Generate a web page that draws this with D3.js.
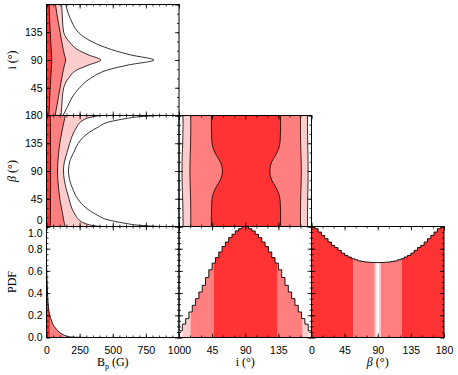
<!DOCTYPE html>
<html>
<head>
<meta charset="utf-8">
<script src="https://cdn.jsdelivr.net/npm/d3@7"></script>
<style>
body { margin: 0; background: #fff; }
svg { display: block; }
.tick text { font-family: "Liberation Sans", Arial, sans-serif; font-size: 10.5px; fill: #000; }
.tick line { stroke: #000; stroke-width: 0.8; }
.title { font-family: "Liberation Serif", "Times New Roman", serif; font-size: 12px; fill: #000; }
</style>
</head>
<body>
<svg width="458" height="375"></svg>
<script>
// ---- values ----
// B_p (G) vs i (deg): B value of each credible contour at a given inclination
var iGrid  = [0, 15, 30, 45, 60, 75, 82, 90, 98, 105, 120, 135, 150, 165, 180];
var biLev1 = [18, 22, 25, 28, 32, 36, 38, 40, 38, 36, 32, 28, 25, 22, 20];
var biLev2 = [65, 78, 90, 103, 115, 128, 136, 145, 136, 128, 115, 103, 90, 78, 68];
var biLev3 = [110, 115, 120, 130, 165, 240, 320, 410, 320, 250, 170, 130, 122, 118, 115];
var biLev4 = [125, 160, 195, 250, 330, 480, 620, 810, 640, 520, 340, 240, 195, 165, 145];

// B_p (G) vs beta (deg)
var bGrid  = [0, 2, 5, 10, 20, 30, 45, 60, 75, 90, 105, 120, 135, 150, 160, 170, 175, 178, 180];
var bbLev1 = [28, 28, 29, 29, 30, 30, 30, 31, 31, 31, 31, 31, 30, 30, 30, 29, 29, 28, 28];
var bbLev2 = [140, 138, 135, 130, 122, 113, 100, 92, 86, 83, 86, 92, 100, 113, 122, 132, 137, 140, 143];
var bbLev3 = [400, 340, 290, 250, 215, 190, 170, 150, 135, 128, 135, 155, 175, 200, 225, 260, 300, 350, 410];
var bbLev4 = [850, 700, 600, 480, 370, 300, 235, 200, 175, 166, 175, 205, 240, 305, 380, 480, 600, 700, 850];

// i (deg) vs beta (deg): left / right edge of each contour
var ibGrid  = [0, 20, 40, 55, 65, 75, 90, 105, 115, 125, 140, 160, 180];
var ibLev1L = [44, 44, 44.5, 47, 51, 56, 59, 56, 51, 47, 44.5, 44, 44];
var ibLev1R = [138, 138, 137.5, 135, 131, 126, 123.5, 126, 131, 135, 137.5, 138, 138];
var ibLev2L = [16, 16, 15.8, 15.5, 15.2, 15, 14.8, 15, 15.2, 15.5, 15.8, 16, 16];
var ibLev2R = [165, 165, 165.2, 165.5, 165.8, 166, 166.2, 166, 165.8, 165.5, 165.2, 165, 165];
var ibLev3L = [5.5, 5.4, 5.1, 4.7, 4.4, 4.2, 4.1, 4.2, 4.4, 4.7, 5.1, 5.4, 5.5];
var ibLev3R = [174.5, 174.6, 174.8, 175, 175.2, 175.3, 175.4, 175.3, 175.2, 175, 174.8, 174.6, 174.5];

// marginal PDF of B_p
var bpX   = [0, 3, 6, 10, 17, 25, 30, 40, 50, 68, 85, 100, 118, 135, 156, 180, 220, 300, 1000];
var bpPdf = [0.68, 0.55, 0.45, 0.35, 0.25, 0.2, 0.18, 0.145, 0.115, 0.085, 0.06, 0.045, 0.03, 0.02, 0.01, 0.005, 0.002, 0, 0];

// marginal PDF of i, 40 bins of 4.5 deg
var iPdf = [0.06, 0.12, 0.17, 0.23, 0.29, 0.35, 0.41, 0.47, 0.54, 0.61,
            0.67, 0.72, 0.77, 0.82, 0.86, 0.90, 0.93, 0.96, 0.98, 1.00,
            1.00, 0.98, 0.96, 0.93, 0.90, 0.86, 0.82, 0.77, 0.72, 0.67,
            0.61, 0.54, 0.47, 0.41, 0.35, 0.29, 0.23, 0.17, 0.12, 0.06];
// marginal PDF of beta, 40 bins of 4.5 deg
var betaPdf = [1.00, 0.98, 0.95, 0.92, 0.89, 0.86, 0.83, 0.81, 0.785, 0.76,
               0.74, 0.725, 0.71, 0.70, 0.69, 0.685, 0.68, 0.678, 0.676, 0.675,
               0.675, 0.676, 0.678, 0.68, 0.685, 0.69, 0.70, 0.71, 0.725, 0.74,
               0.76, 0.785, 0.81, 0.83, 0.86, 0.89, 0.92, 0.95, 0.98, 1.00];

// shaded credible intervals on the marginals (edges, colour level)
var bpBandEdges = [0, 30, 130, 400, 1000], bpBandLev = [0, 1, 2, 4];
var iBandEdges = [0, 4.8, 15.7, 47, 134, 168, 176, 180], iBandLev = [3, 2, 1, 0, 1, 2, 3];
var betaBandEdges = [0, 57, 86, 88.5, 91.5, 94, 122.5, 180], betaBandLev = [0, 1, 2, 4, 2, 1, 0];

var levColor = ["#ff3333", "#ff7f7f", "#ffcccc", "#ffe6e6", "#ffffff"];

var angTicks = [0, 45, 90, 135, 180], angMinor = d3.range(0, 181, 15);
var bTicks = [0, 250, 500, 750, 1000], bMinor = d3.range(0, 1001, 50);
var pdfTicks = [0, 0.2, 0.4, 0.6, 0.8, 1.0], pdfMinor = d3.range(0, 1.001, 0.05);

// ---- layout ----
var svg = d3.select("svg");
var L = 46.5, T = 4.5, W = 132.5, H = 111;

function panel(r, c, xdom, ydom, id) {
	var p = {};
	p.g = svg.append("g").attr("transform", "translate(" + (L + c * W) + "," + (T + r * H) + ")");
	p.x = d3.scaleLinear().domain(xdom).range([0, W]);
	p.y = d3.scaleLinear().domain(ydom).range([H, 0]);
	p.g.append("clipPath").attr("id", id).append("rect").attr("width", W).attr("height", H);
	p.body = p.g.append("g").attr("clip-path", "url(#" + id + ")");
	return p;
}

function frame(p, xMaj, xMin, xLabs, yMaj, yMin, yLabs, xfmt, yfmt) {
	var g = p.g;
	function lab(list, fmt) {
		return function(d) { return list && list.indexOf(d) >= 0 ? fmt(d) : ""; };
	}
	function clean(s) { s.select(".domain").remove(); }
	// bottom / top
	g.append("g").attr("transform", "translate(0," + H + ")")
		.call(d3.axisBottom(p.x).tickValues(xMin).tickSize(-2).tickFormat("")).call(clean);
	g.append("g").attr("transform", "translate(0," + H + ")")
		.call(d3.axisBottom(p.x).tickValues(xMaj).tickSize(-4).tickPadding(9).tickFormat(lab(xLabs, xfmt))).call(clean);
	g.append("g").call(d3.axisTop(p.x).tickValues(xMin).tickSize(-2).tickFormat("")).call(clean);
	g.append("g").call(d3.axisTop(p.x).tickValues(xMaj).tickSize(-4).tickFormat("")).call(clean);
	// left / right
	g.append("g").call(d3.axisLeft(p.y).tickValues(yMin).tickSize(-2).tickFormat("")).call(clean);
	p.yAxis = g.append("g").call(d3.axisLeft(p.y).tickValues(yMaj).tickSize(-4).tickPadding(4).tickFormat(lab(yLabs, yfmt))).call(clean);
	g.append("g").attr("transform", "translate(" + W + ",0)")
		.call(d3.axisRight(p.y).tickValues(yMin).tickSize(-2).tickFormat("")).call(clean);
	g.append("g").attr("transform", "translate(" + W + ",0)")
		.call(d3.axisRight(p.y).tickValues(yMaj).tickSize(-4).tickFormat("")).call(clean);
	g.append("rect").attr("width", W).attr("height", H)
		.attr("fill", "none").attr("stroke", "#000").attr("stroke-width", 1);
}

var intFmt = d3.format("d"), pdfFmt = d3.format(".1f");

// contours running out from B_p = 0
function bContours(p, grid, levels) {
	var pts = function(arr) { return grid.map(function(v, k) { return {v: v, b: arr[k]}; }); };
	var area = d3.area().curve(d3.curveMonotoneY)
		.y(function(d) { return p.y(d.v); })
		.x0(p.x(0)).x1(function(d) { return p.x(d.b); });
	var line = d3.line().curve(d3.curveMonotoneY)
		.y(function(d) { return p.y(d.v); }).x(function(d) { return p.x(d.b); });
	var fills = [levColor[4], levColor[2], levColor[1], levColor[0]];
	for (var k = levels.length - 1; k >= 0; k--) {
		p.body.append("path").attr("d", area(pts(levels[k])))
			.attr("fill", fills[levels.length - 1 - k]);
	}
	levels.forEach(function(arr) {
		p.body.append("path").attr("d", line(pts(arr)))
			.attr("fill", "none").attr("stroke", "#000").attr("stroke-width", 0.8);
	});
}

// ---- row 1: B_p vs i ----
var p00 = panel(0, 0, [0, 1000], [0, 180], "c00");
bContours(p00, iGrid, [biLev1, biLev2, biLev3, biLev4]);
frame(p00, bTicks, bMinor, null, angTicks, angMinor, [45, 90, 135], intFmt, intFmt);

// ---- row 2: B_p vs beta ----
var p10 = panel(1, 0, [0, 1000], [0, 180], "c10");
bContours(p10, bGrid, [bbLev1, bbLev2, bbLev3, bbLev4]);
frame(p10, bTicks, bMinor, null, angTicks, angMinor, angTicks, intFmt, intFmt);
// lift the "0" so it clears the "1.0" of the panel below
p10.yAxis.selectAll(".tick text").filter(function(d) { return d === 0; }).attr("dy", "-0.25em");

// ---- row 2: i vs beta ----
var p11 = panel(1, 1, [0, 180], [0, 180], "c11");
(function() {
	var sets = [[ibLev3L, ibLev3R, levColor[2]], [ibLev2L, ibLev2R, levColor[1]], [ibLev1L, ibLev1R, levColor[0]]];
	sets.forEach(function(s) {
		var pts = ibGrid.map(function(v, k) { return {v: v, l: s[0][k], r: s[1][k]}; });
		p11.body.append("path")
			.attr("d", d3.area().curve(d3.curveMonotoneY)
				.y(function(d) { return p11.y(d.v); })
				.x0(function(d) { return p11.x(d.l); })
				.x1(function(d) { return p11.x(d.r); })(pts))
			.attr("fill", s[2]);
	});
	sets.forEach(function(s) {
		[s[0], s[1]].forEach(function(arr) {
			var pts = ibGrid.map(function(v, k) { return {v: v, u: arr[k]}; });
			p11.body.append("path")
				.attr("d", d3.line().curve(d3.curveMonotoneY)
					.y(function(d) { return p11.y(d.v); })
					.x(function(d) { return p11.x(d.u); })(pts))
				.attr("fill", "none").attr("stroke", "#000").attr("stroke-width", 0.8);
		});
	});
})();
frame(p11, angTicks, angMinor, null, angTicks, angMinor, null, intFmt, intFmt);

// ---- row 3: marginals ----
function bands(p, id, areaPath, edges, levs) {
	p.g.append("clipPath").attr("id", id).append("path").attr("d", areaPath);
	var gb = p.body.append("g").attr("clip-path", "url(#" + id + ")");
	levs.forEach(function(lv, k) {
		gb.append("rect")
			.attr("x", p.x(edges[k])).attr("width", p.x(edges[k + 1]) - p.x(edges[k]))
			.attr("y", 0).attr("height", H)
			.attr("fill", levColor[lv]);
	});
}

function histo(p, id, vals, edges, levs) {
	var step = 180 / vals.length;
	var pts = vals.map(function(v, k) { return {x: k * step, y: v}; });
	pts.push({x: 180, y: vals[vals.length - 1]});
	var area = d3.area().curve(d3.curveStepAfter)
		.x(function(d) { return p.x(d.x); }).y0(p.y(0)).y1(function(d) { return p.y(d.y); });
	var line = d3.line().curve(d3.curveStepAfter)
		.x(function(d) { return p.x(d.x); }).y(function(d) { return p.y(d.y); });
	bands(p, id, area(pts), edges, levs);
	p.body.append("path").attr("d", line(pts))
		.attr("fill", "none").attr("stroke", "#000").attr("stroke-width", 0.9);
}

var p20 = panel(2, 0, [0, 1000], [0, 1], "c20");
(function() {
	var pts = bpX.map(function(v, k) { return {x: v, y: bpPdf[k]}; });
	var area = d3.area().curve(d3.curveMonotoneX)
		.x(function(d) { return p20.x(d.x); }).y0(p20.y(0)).y1(function(d) { return p20.y(d.y); });
	bands(p20, "h20", area(pts), bpBandEdges, bpBandLev);
	p20.body.append("path")
		.attr("d", d3.line().curve(d3.curveMonotoneX)
			.x(function(d) { return p20.x(d.x); }).y(function(d) { return p20.y(d.y); })(pts))
		.attr("fill", "none").attr("stroke", "#000").attr("stroke-width", 0.9);
})();
frame(p20, bTicks, bMinor, bTicks, pdfTicks, pdfMinor, pdfTicks, intFmt, pdfFmt);
p20.yAxis.selectAll(".tick text").filter(function(d) { return d === 1; }).attr("dy", "0.92em");

var p21 = panel(2, 1, [0, 180], [0, 1], "c21");
histo(p21, "h21", iPdf, iBandEdges, iBandLev);
frame(p21, angTicks, angMinor, [45, 90, 135], pdfTicks, pdfMinor, null, intFmt, pdfFmt);

var p22 = panel(2, 2, [0, 180], [0, 1], "c22");
histo(p22, "h22", betaPdf, betaBandEdges, betaBandLev);
frame(p22, angTicks, angMinor, angTicks, pdfTicks, pdfMinor, null, intFmt, pdfFmt);

// ---- axis titles ----
var bx = svg.append("text").attr("class", "title").attr("x", L + W / 2).attr("y", 366).attr("text-anchor", "middle");
bx.append("tspan").text("B");
bx.append("tspan").attr("font-size", "8px").attr("dy", 3).text("p");
bx.append("tspan").attr("dy", -3).text(" (G)");

svg.append("text").attr("class", "title").attr("x", L + 1.5 * W).attr("y", 366)
	.attr("text-anchor", "middle").text("i (°)");
var btx = svg.append("text").attr("class", "title").attr("x", L + 2.5 * W).attr("y", 366).attr("text-anchor", "middle");
btx.append("tspan").attr("font-style", "italic").text("β");
btx.append("tspan").text(" (°)");

function ytitle(cy, build) {
	var t = svg.append("text").attr("class", "title").attr("text-anchor", "middle")
		.attr("transform", "translate(16," + cy + ") rotate(-90)");
	build(t);
}
ytitle(T + H / 2, function(t) { t.text("i (°)"); });
ytitle(T + 1.5 * H, function(t) {
	t.append("tspan").attr("font-style", "italic").text("β");
	t.append("tspan").text(" (°)");
});
ytitle(T + 2.5 * H, function(t) { t.text("PDF"); });
</script>
</body>
</html>
